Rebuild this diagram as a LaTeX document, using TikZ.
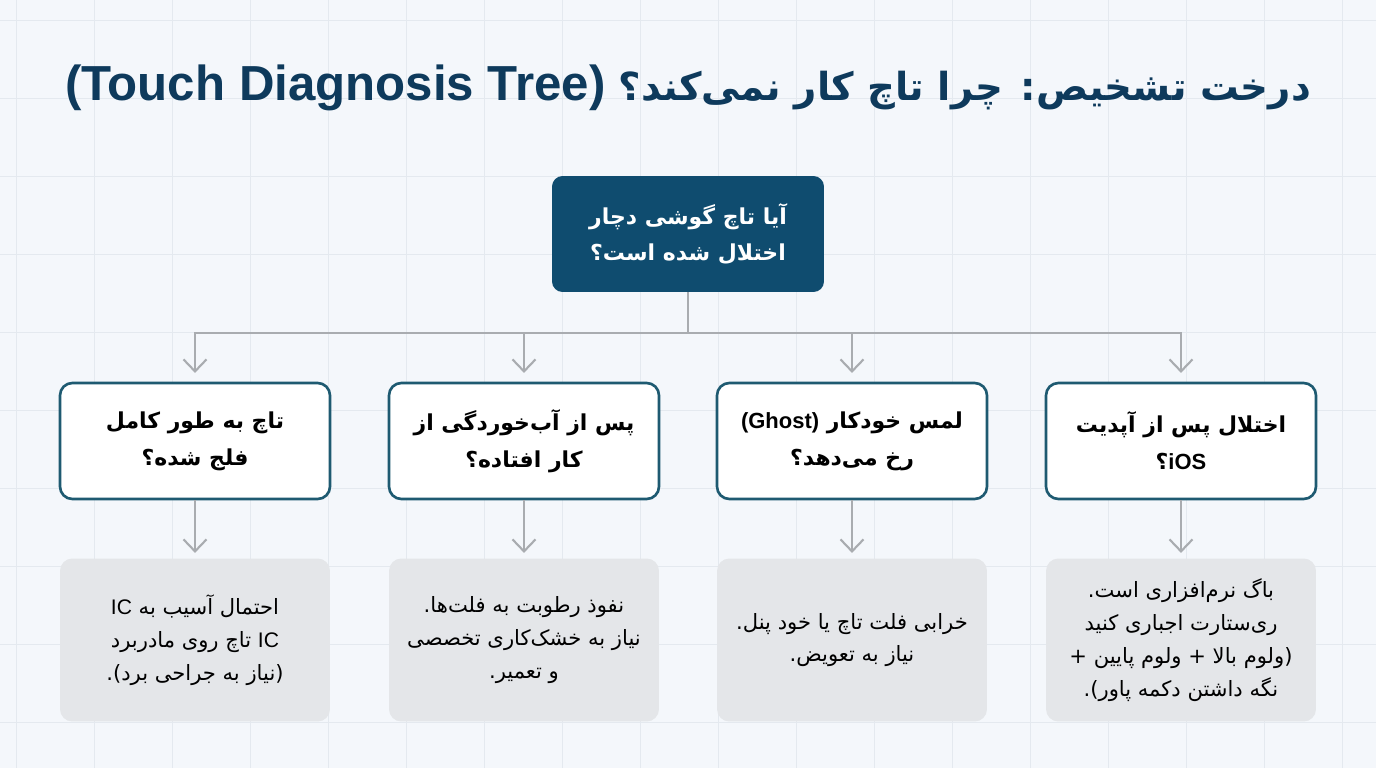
\documentclass[tikz,border=0pt]{standalone}
\usepackage{fontspec}
\usetikzlibrary{arrows.meta}
\TeXXeTstate=1
\newfontfamily\arabicfont[Script=Arabic]{DejaVu Sans}
\newfontfamily\latinfont{Liberation Sans}
\newcommand{\fa}[1]{{\arabicfont\beginR #1\endR}}
\newcommand{\en}[1]{\beginL{\latinfont #1}\endL{}}
\definecolor{bgcol}{HTML}{F4F7FB}
\definecolor{gridcol}{HTML}{E4E9EF}
\definecolor{titlecol}{HTML}{0E3A5C}
\definecolor{rootblue}{HTML}{0F4C6F}
\definecolor{edgeblue}{HTML}{1E5A71}
\definecolor{leafgray}{HTML}{E4E6E9}
\definecolor{linkgray}{HTML}{A9ACB0}
\begin{document}
\begin{tikzpicture}[x=0.02cm, y=-0.02cm, >={Straight Barb[length=2.4mm,width=4.6mm]},
  rootbox/.style={fill=rootblue, rounded corners=6pt, minimum width=5.44cm, minimum height=2.32cm,
    text=white, align=center, font=\arabicfont\bfseries\fontsize{12.5}{21}\selectfont},
  askbox/.style={draw=edgeblue, line width=1.5pt, fill=white, rounded corners=7pt, minimum width=5.4cm,
    minimum height=2.32cm, align=center, font=\arabicfont\bfseries\fontsize{12.5}{21}\selectfont},
  fixbox/.style={fill=leafgray, rounded corners=7pt, minimum width=5.4cm, minimum height=3.26cm,
    align=center, font=\arabicfont\fontsize{12}{18.7}\selectfont},
  link/.style={draw=linkgray, line width=1.2pt}]
\fill[bgcol] (0,0) rectangle (1376,768);
\useasboundingbox (0,0) rectangle (1376,768);
\foreach \x in {16,94,...,1376}
{
	\draw[gridcol, line width=0.5pt] (\x,0) -- (\x,768);
}
\foreach \y in {20,98,...,768}
{
	\draw[gridcol, line width=0.5pt] (0,\y) -- (1376,\y);
}

\node (title)[text=titlecol, font=\bfseries\fontsize{22}{30}\selectfont] at (688,88)
  {\fa{درخت تشخیص: چرا تاچ کار نمی‌کند؟ \en{\fontsize{28}{30}\selectfont(Touch Diagnosis Tree)}}};

\node (root)[rootbox] at (688,234) {\fa{آیا تاچ گوشی دچار}\\\fa{اختلال شده است؟}};

\node (q1)[askbox] at (195,441) {\fa{تاچ به طور کامل}\\\fa{فلج شده؟}};
\node (q2)[askbox] at (524,441) {\fa{پس از آب‌خوردگی از}\\\fa{کار افتاده؟}};
\node (q3)[askbox] at (852,441) {\fa{لمس خودکار \en{(Ghost)}}\\\fa{رخ می‌دهد؟}};
\node (q4)[askbox] at (1181,441) {\fa{اختلال پس از آپدیت}\\\fa{\en{iOS}؟}};

\node (a1)[fixbox] at (195,640) {\fa{احتمال آسیب به \en{IC}}\\\fa{\en{IC} تاچ روی مادربرد}\\\fa{(نیاز به جراحی برد).}};
\node (a2)[fixbox] at (524,640) {\fa{نفوذ رطوبت به فلت‌ها.}\\\fa{نیاز به خشک‌کاری تخصصی}\\\fa{و تعمیر.}};
\node (a3)[fixbox] at (852,640) {\fa{خرابی فلت تاچ یا خود پنل.}\\\fa{نیاز به تعویض.}};
\node (a4)[fixbox] at (1181,640) {\fa{باگ نرم‌افزاری است.}\\\fa{ری‌ستارت اجباری کنید}\\\fa{(ولوم بالا + ولوم پایین +}\\\fa{نگه داشتن دکمه پاور).}};

\foreach \q in {q1,q2,q3,q4}
{
	\draw[link, ->, shorten >=5pt](root.south)--++(0,41)-|(\q.north);
}
\foreach \q/\a in {q1/a1,q2/a2,q3/a3,q4/a4}
{
	\draw[link, ->, shorten >=3pt](\q.south)--(\a.north);
}
\end{tikzpicture}
\end{document}
